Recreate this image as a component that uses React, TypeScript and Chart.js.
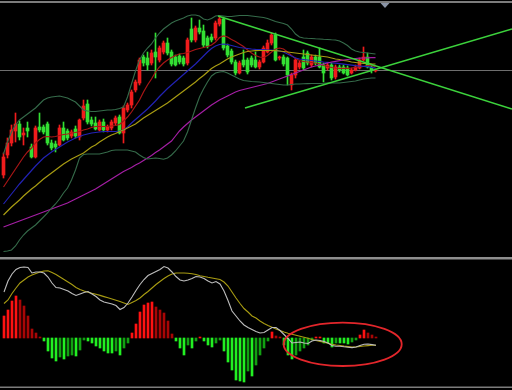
import { useEffect, useRef } from "react";
import { Chart, registerables } from "chart.js";

Chart.register(...registerables);

// ---- Price panel data (arbitrary price units, index = bar number) ----
const OPEN = [
  83, 103, 115, 127, 134, 123, 130, 111, 101, 131,
  131, 134, 115, 114, 113, 130, 127, 122, 129, 121,
  140, 154, 138, 135, 128, 136, 128, 130, 135, 141,
  125, 148, 153, 168, 175, 201, 200, 195, 206, 198,
  206, 215, 206, 201, 202, 200, 195, 229, 218, 230,
  227, 220, 221, 220, 234, 239, 212, 207, 196, 185,
  198, 198, 200, 198, 191, 196, 206, 215, 223, 200,
  201, 200, 173, 183, 191, 201, 205, 193, 201, 201,
  193, 190, 193, 181, 191, 191, 190, 185, 188, 190,
  198, 201, 191, 187,
];
const HIGH = [
  105, 120, 133, 145, 137, 130, 136, 114, 132, 145,
  133, 136, 118, 117, 133, 136, 129, 128, 132, 139,
  158, 158, 141, 141, 138, 139, 133, 138, 142, 143,
  152, 155, 168, 178, 200, 203, 206, 208, 225, 212,
  217, 220, 208, 203, 204, 202, 220, 240, 232, 238,
  233, 222, 224, 237, 242, 241, 214, 209, 198, 197,
  208, 200, 202, 206, 198, 212, 218, 225, 225, 202,
  203, 201, 185, 200, 197, 208, 207, 203, 203, 210,
  195, 195, 195, 193, 193, 193, 192, 190, 193, 200,
  211, 205, 193, 189,
];
const LOW = [
  80, 100, 112, 116, 118, 113, 121, 100, 100, 126,
  124, 113, 108, 106, 112, 117, 118, 120, 120, 118,
  138, 134, 132, 128, 127, 126, 126, 128, 133, 124,
  115, 146, 150, 166, 173, 192, 188, 193, 180, 196,
  204, 203, 192, 192, 194, 192, 193, 216, 216, 224,
  211, 210, 216, 218, 232, 208, 201, 194, 183, 184,
  191, 184, 191, 190, 189, 195, 205, 213, 197, 198,
  192, 173, 168, 180, 189, 188, 193, 191, 193, 190,
  176, 188, 178, 179, 186, 184, 182, 184, 187, 189,
  197, 190, 185, 186,
];
const CLOSE = [
  101, 115, 128, 134, 121, 125, 127, 101, 130, 128,
  126, 115, 110, 111, 130, 118, 120, 126, 122, 138,
  152, 136, 134, 129, 136, 128, 131, 136, 140, 125,
  150, 153, 166, 176, 198, 195, 193, 205, 201, 210,
  215, 205, 194, 193, 196, 194, 218, 218, 230, 226,
  213, 212, 218, 235, 239, 210, 203, 196, 185, 195,
  193, 186, 193, 191, 196, 210, 215, 223, 198, 201,
  194, 183, 183, 198, 195, 190, 195, 201, 195, 191,
  185, 193, 180, 191, 188, 185, 183, 188, 191, 198,
  201, 191, 188, 188,
];

const BB_UPPER = [
  104, 116, 126, 133, 138, 141, 144, 147, 150, 154,
  158, 160, 161, 161.5, 162, 161, 160, 158, 156, 152,
  148, 147, 146.5, 146.5, 147, 147.5, 148, 148, 148.5, 149.5,
  151, 161, 174, 187, 198, 205, 210, 214, 220, 225,
  229, 232, 235, 237, 238.5, 240, 242, 243, 243, 242,
  239, 238, 239.5, 242, 242.5, 242, 241.5, 241.5, 242, 242.5,
  242.5, 242.5, 242, 241.5, 241, 240.5, 239.5, 238, 236.5, 235.5,
  234.5, 233, 229, 224, 221, 220, 219.7, 219.5, 219.2, 219,
  218.7, 218.5, 218.2, 218, 217, 215, 212.5, 209, 207, 206,
  205.5, 205, 204.5, 204,
];
const BB_LOWER = [
  6.5, 7, 8, 12, 18, 23, 27, 30, 33, 37,
  41, 45, 50, 54, 59, 65, 70, 78, 88, 100,
  103.5, 104, 104, 104, 104, 105, 106, 107.5, 108, 108,
  108, 108, 107, 106, 103, 100.5, 99, 99.5, 100, 99.5,
  98.7, 100, 103, 107, 112, 117, 126, 138, 150, 161,
  169, 176, 182, 185, 186, 186.5, 185, 183, 181, 179,
  177.5, 177, 176.5, 176.3, 176, 175.5, 175, 174.5, 174, 173.5,
  173, 173, 173.5, 174, 174, 174.2, 174.4, 174.5, 174.5, 174.5,
  174.7, 175, 175, 175, 175, 175.5, 176, 176.5, 177, 178,
  179, 179.5, 180, 180,
];
const MA_RED = [
  71, 77, 83, 89, 95, 101, 106, 110, 115, 118.5,
  121, 121.5, 121, 121.5, 122.5, 123.5, 124, 125, 125.5, 126.5,
  128, 129, 130.5, 131.5, 131.5, 131.5, 131.5, 132, 132.5, 133.5,
  137, 141, 146, 152, 158, 166, 173, 179, 186, 191,
  195, 198, 200.5, 202.5, 204, 204.5, 205.5, 207, 208.5, 209.5,
  210.5, 211.5, 213, 216, 220.5, 222, 221, 218.5, 216.5, 214,
  211.5, 208, 205, 202.5, 201, 200.5, 202.5, 206, 209, 210,
  209, 206, 202.5, 199.5, 197.5, 196.5, 196, 195.5, 195, 194,
  192.5, 191.5, 190.5, 190, 189.7, 189.7, 189.7, 190, 190.5, 191,
  191.5, 192.5, 192.5, 191.3,
];
const MA_BLUE = [
  54, 59, 64, 69, 74, 78.5, 83, 87.5, 92, 96,
  100, 103, 106, 108.5, 111, 113.5, 116, 118, 120, 121.5,
  123, 124, 125, 125.5, 126, 126.5, 126.5, 126.5, 126.5, 127,
  128, 131, 135, 138.5, 142, 145.5, 149, 153, 157, 161.5,
  165.5, 169.5, 173, 176.5, 180, 183.5, 187, 190.5, 194, 198,
  202, 206, 209.5, 212, 213.5, 214, 213.5, 212.5, 211.5, 210.5,
  210, 209.5, 209, 208.7, 208.5, 208.3, 208, 208, 207.5, 207,
  206, 204, 202, 200, 199, 198.5, 198, 197.5, 197, 196.5,
  196, 195.7, 195.2, 194.8, 194.3, 193.8, 193.3, 192.8, 192.3, 192,
  191.7, 191.3, 190.7, 189.8,
];
const MA_YELLOW = [
  43, 47, 51, 54.5, 58, 62, 65.5, 69, 72, 75.5,
  79, 82, 85, 88, 91, 94, 96.5, 99, 101, 103,
  105, 108, 111, 113, 116, 118.5, 121, 123, 124.5, 126.5,
  128, 130, 132, 134, 137, 140, 142.5, 145, 147.5, 150,
  152.5, 155, 158, 161, 164, 167, 170, 173, 176, 179.5,
  182.5, 186, 189.5, 192, 194, 196.5, 199, 201, 202.5, 204,
  205.5, 206.5, 207, 207.3, 207.5, 207.5, 207.5, 207.5, 207.3, 207,
  206.5, 206, 205.5, 205, 204.5, 204, 203.5, 203, 202.5, 202,
  201.5, 201, 200, 199, 198.5, 197.5, 197, 196, 195.5, 195,
  194.7, 194.5, 194.2, 194,
];
const MA_MAGENTA = [
  31, 32.5, 34, 35.5, 37, 38.5, 40, 41.5, 43, 44.5,
  46, 47.5, 49, 50.5, 52, 53.5, 55, 57, 59, 61,
  63, 65, 67, 69, 71.5, 74, 76.5, 79, 81.5, 84,
  86.5, 88.5, 90.5, 93, 95, 97.5, 100, 102.5, 105.5, 108,
  111, 114, 117, 122, 127, 131, 134.5, 138, 141, 144,
  147, 150, 153, 155.5, 158, 160, 162, 164, 166, 167.5,
  168.5, 169.5, 170.5, 171.5, 172.5, 173.5, 174.5, 176, 177.5, 179,
  180.5, 182, 183.5, 185, 186.5, 188, 189.5, 191, 192, 193,
  194, 195, 196, 196.7, 197.3, 198, 198.5, 199, 199.5, 199.8,
  200, 200.2, 200.3, 200.3,
];

// Hand-drawn trend lines (bar index, price)
const TREND_DOWN = [{ x: 53.625, y: 242 }, { x: 127.125, y: 149 }];
const TREND_UP = [{ x: 60.375, y: 150 }, { x: 127.125, y: 229 }];

// ---- MACD panel data ----
const MACD_HIST = [
  22, 28, 37, 42, 38, 32, 22, 9, 5, 1,
  -3, -13, -20, -23, -19, -21, -18, -17, -18, -12,
  -2, -3, -5, -8, -10, -13, -15, -15, -13, -17,
  -10, -5, 5, 14, 26, 33, 35, 36, 31, 28,
  25, 17, 4, -3, -10, -17, -7, -10, -3, 1,
  -3, -7, -9, -5, -2, -13, -24, -32, -42, -43,
  -44, -33, -38, -27, -17, -10, -3, 6, 2, 1,
  -7, -17, -21, -17, -13, -10, -7, -2, 1, 1,
  -5, -5, -9, -5, -5, -5, -6, -4, -2, 3,
  8, 5, 3, 1,
];
const MACD_MAIN = [
  46, 57, 64, 68.5, 70.5, 71, 70.5, 65, 66, 66,
  65, 61, 55, 50.5, 50, 48.5, 47, 44.5, 42.5, 44,
  45.5, 46.5, 44, 41.5, 38, 36, 35, 34, 32.5, 28.5,
  30.5, 35, 41, 47.5, 53.5, 58.5, 62.5, 64.5, 66.5, 68.5,
  71.5, 70, 66, 61.5, 58, 57, 58, 59.5, 61.5, 61,
  59.5, 57, 55, 56.5, 54, 47, 37.5, 27, 22, 17,
  13, 10.5, 8.5, 6.5, 5, 5.5, 8, 10.5, 10.5, 7.5,
  3.5, -0.5, -5, -4.5, -4, -5, -5.5, -3, -2, -2.5,
  -3.5, -5, -7.5, -8.3, -8.3, -8.8, -9.2, -9.6, -9, -7.5,
  -6.3, -6, -6.6, -7.3,
];
const MACD_SIGNAL = [
  34.5, 38, 44.5, 50, 55, 58, 61, 63, 64.5, 66,
  67, 67.3, 65.5, 63.5, 61, 58.5, 56, 53.5, 50.5, 48.5,
  47, 45.8, 44.6, 43.8, 42.6, 41.4, 40.2, 39, 37.8, 36.5,
  35, 33.5, 35.5, 37.5, 40, 43.5, 46.5, 50, 53.5, 56.5,
  59.5, 62, 64, 65, 65, 65, 64.7, 64.2, 63.5, 62.3,
  61.5, 60.7, 60, 59.3, 58.5, 56, 52, 46, 40, 34.5,
  29.5, 26, 22, 20, 17, 14.5, 12.5, 10.7, 9, 7.5,
  6, 4.8, 3.8, 2.8, 1.8, 0.8, -0.2, -1.5, -2.5, -3.4,
  -4.3, -5.2, -6.2, -7, -7.5, -8.1, -8.6, -9.1, -9, -8.4,
  -8, -7.6, -7.3, -7.3,
];
// Highlight ellipse on MACD panel (bar index / MACD units)
const HIGHLIGHT = { cx: 84.675, cy: -6.3, rx: 14.75, ry: 21.7 };

// ---- view ranges ----
const X_MIN = -0.875;
const X_MAX = 127.125;
const X_MIN_MACD = -1;
const X_MAX_MACD = 127;
const PRICE_MIN = 0;
const PRICE_MAX = 258;
const MACD_MIN = -52;
const MACD_MAX = 80;
const SHIFT_MARK_INDEX = 95.375;

const W = 512;
const H_MAIN = 258;
const H_MACD = 132;

const C_UP = "#f01c1c";
const C_DOWN = "#33e033";

export default function App() {
  const mainRef = useRef<HTMLCanvasElement>(null);
  const macdRef = useRef<HTMLCanvasElement>(null);

  useEffect(() => {
    document.body.style.margin = "0";
    document.body.style.background = "#000";
    const pts = (arr: number[]) => arr.map((v, i) => ({ x: i, y: v }));
    const idx = OPEN.map((_, i) => i);
    const candleColors = idx.map((i) => (CLOSE[i] >= OPEN[i] ? C_UP : C_DOWN));
    const bodies = idx.map((i) => {
      const lo = Math.min(OPEN[i], CLOSE[i]);
      let hi = Math.max(OPEN[i], CLOSE[i]);
      if (hi - lo < 1) hi = lo + 1;
      return { x: i, y: [lo, hi] };
    });
    const wicks = idx.map((i) => ({ x: i, y: [LOW[i], HIGH[i]] }));

    const line = (label: string, data: any[], color: string, width = 1.2, order = 1) => ({
      type: "line" as const,
      label,
      data,
      borderColor: color,
      borderWidth: width,
      pointRadius: 0,
      tension: 0,
      fill: false,
      order,
    });

    // ungrouped bars: width = min(maxBarThickness, spacing * category% * bar%)
    const barWidth = (px: number) => ({
      maxBarThickness: px,
      barPercentage: 1,
      categoryPercentage: 1,
      grouped: false,
    });

    const bgPlugin = {
      id: "bg",
      beforeDraw(chart: any) {
        const c = chart.ctx;
        c.save();
        c.fillStyle = "#000";
        c.fillRect(0, 0, chart.width, chart.height);
        c.restore();
      },
    };

    const bidPlugin = {
      id: "bid",
      beforeDatasetsDraw(chart: any) {
        const c = chart.ctx;
        const y = Math.round(chart.scales.y.getPixelForValue(CLOSE[CLOSE.length - 1])) + 0.5;
        c.save();
        c.strokeStyle = "#6e6e6e";
        c.lineWidth = 1;
        c.beginPath();
        c.moveTo(0, y);
        c.lineTo(chart.width, y);
        c.stroke();
        c.restore();
      },
    };

    const mainFrame = {
      id: "mainFrame",
      afterDraw(chart: any) {
        const c = chart.ctx;
        c.save();
        c.fillStyle = "#7c7c7c";
        c.fillRect(0, 1, chart.width, 2);
        c.fillStyle = "#8e8e8e";
        c.fillRect(0, chart.height - 1, chart.width, 1);
        const x = chart.scales.x.getPixelForValue(SHIFT_MARK_INDEX);
        c.fillStyle = "#8a94a6";
        c.beginPath();
        c.moveTo(x - 4.5, 3);
        c.lineTo(x + 4.5, 3);
        c.lineTo(x, 8);
        c.closePath();
        c.fill();
        c.restore();
      },
    };

    const macdFrame = {
      id: "macdFrame",
      afterDraw(chart: any) {
        const c = chart.ctx;
        c.save();
        c.fillStyle = "#8e8e8e";
        c.fillRect(0, 0, chart.width, 1.5);
        c.fillStyle = "#7c7c7c";
        c.fillRect(0, 128.5, chart.width, 1.5);
        c.restore();
      },
    };

    const ellipsePlugin = {
      id: "highlight",
      afterDatasetsDraw(chart: any) {
        const xs = chart.scales.x;
        const ys = chart.scales.y;
        const cx = xs.getPixelForValue(HIGHLIGHT.cx);
        const cy = ys.getPixelForValue(HIGHLIGHT.cy);
        const rx = Math.abs(xs.getPixelForValue(HIGHLIGHT.cx + HIGHLIGHT.rx) - cx);
        const ry = Math.abs(ys.getPixelForValue(HIGHLIGHT.cy + HIGHLIGHT.ry) - cy);
        const c = chart.ctx;
        c.save();
        c.strokeStyle = "#e3262b";
        c.lineWidth = 1.8;
        c.beginPath();
        c.ellipse(cx, cy, rx, ry, 0, 0, Math.PI * 2);
        c.stroke();
        c.restore();
      },
    };

    const common = {
      responsive: false,
      maintainAspectRatio: false,
      animation: false as const,
      devicePixelRatio: 1,
      events: [] as any[],
      layout: { padding: 0 },
      plugins: { legend: { display: false }, tooltip: { enabled: false } },
    };

    const main = new Chart(mainRef.current!, {
      type: "bar",
      data: {
        datasets: [
          line("Trend down", TREND_DOWN, "#3cd23c", 1.6, 0),
          line("Trend up", TREND_UP, "#3cd23c", 1.6, 0),
          line("BB upper", pts(BB_UPPER), "#356b4a", 1.1, 1),
          line("BB lower", pts(BB_LOWER), "#356b4a", 1.1, 1),
          line("MA magenta", pts(MA_MAGENTA), "#a41ea4"),
          line("MA yellow", pts(MA_YELLOW), "#a89c12"),
          line("MA blue", pts(MA_BLUE), "#2222b4"),
          line("MA red", pts(MA_RED), "#a81616"),
          {
            type: "bar",
            label: "Bodies",
            data: bodies as any,
            backgroundColor: candleColors,
            borderWidth: 0,
            ...barWidth(3),
            order: 4,
          },
          {
            type: "bar",
            label: "Wicks",
            data: wicks as any,
            backgroundColor: candleColors,
            borderWidth: 0,
            ...barWidth(1),
            order: 5,
          },
        ] as any,
      },
      options: {
        ...common,
        scales: {
          x: { type: "linear", min: X_MIN, max: X_MAX, display: false, offset: false },
          y: { type: "linear", min: PRICE_MIN, max: PRICE_MAX, display: false },
        },
      } as any,
      plugins: [bgPlugin, bidPlugin, mainFrame],
    });

    const histColors = MACD_HIST.map((v, i) => {
      const prev = i > 0 ? MACD_HIST[i - 1] : v;
      if (v >= 0) return v >= prev ? "#ff1212" : "#a80606";
      return v <= prev ? "#22f022" : "#12a012";
    });

    const macd = new Chart(macdRef.current!, {
      type: "bar",
      data: {
        datasets: [
          line("MACD", pts(MACD_MAIN), "#bdbdbd", 1.1, 1),
          line("Signal", pts(MACD_SIGNAL), "#a89c12", 1.1, 1),
          {
            type: "bar",
            label: "Histogram",
            data: pts(MACD_HIST) as any,
            backgroundColor: histColors,
            borderWidth: 0,
            ...barWidth(2),
            order: 3,
          },
        ] as any,
      },
      options: {
        ...common,
        scales: {
          x: { type: "linear", min: X_MIN_MACD, max: X_MAX_MACD, display: false, offset: false },
          y: { type: "linear", min: MACD_MIN, max: MACD_MAX, display: false },
        },
      } as any,
      plugins: [bgPlugin, ellipsePlugin, macdFrame],
    });

    return () => {
      main.destroy();
      macd.destroy();
    };
  }, []);

  return (
    <div style={{ width: W, height: H_MAIN + H_MACD, background: "#000" }}>
      <canvas ref={mainRef} width={W} height={H_MAIN} style={{ display: "block" }} />
      <canvas ref={macdRef} width={W} height={H_MACD} style={{ display: "block" }} />
    </div>
  );
}
